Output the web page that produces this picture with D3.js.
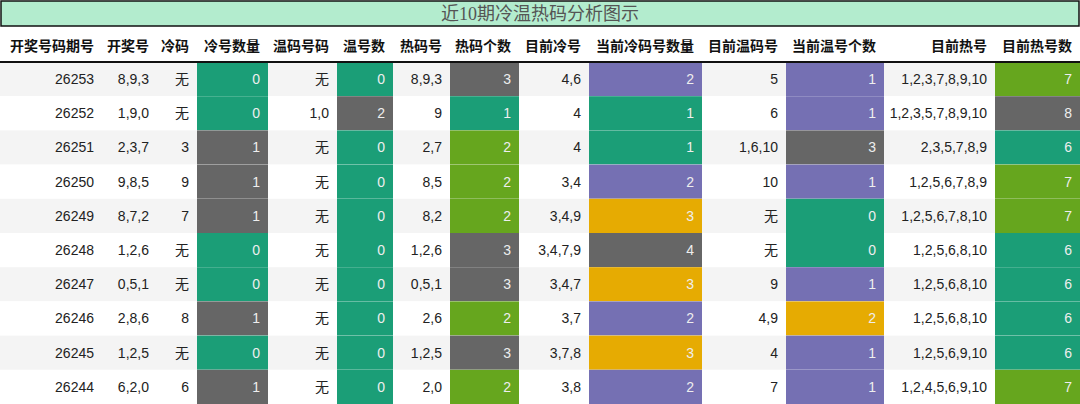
<!DOCTYPE html>
<html>
<head>
<meta charset="utf-8">
<script src="https://cdn.jsdelivr.net/npm/d3@7"></script>
<style>
  body { margin: 0; background: #fff; }
  text { font-family: "Liberation Sans", "Noto Sans CJK SC", sans-serif; }
</style>
</head>
<body>
<svg width="1080" height="404"></svg>
<script>
const title = "近10期冷温热码分析图示";
const headers = ["开奖号码期号","开奖号","冷码","冷号数量","温码号码","温号数","热码号","热码个数","目前冷号","当前冷码号数量","目前温码号","当前温号个数","目前热号","目前热号数"];
const periods = ["26253","26252","26251","26250","26249","26248","26247","26246","26245","26244"];
const draws = ["8,9,3","1,9,0","2,3,7","9,8,5","8,7,2","1,2,6","0,5,1","2,8,6","1,2,5","6,2,0"];
const coldCodes = ["无","无","3","9","7","无","无","8","无","6"];
const coldCount = [0,0,1,1,1,0,0,1,0,1];
const warmCodes = ["无","1,0","无","无","无","无","无","无","无","无"];
const warmCount = [0,2,0,0,0,0,0,0,0,0];
const hotCodes = ["8,9,3","9","2,7","8,5","8,2","1,2,6","0,5,1","2,6","1,2,5","2,0"];
const hotCount = [3,1,2,2,2,3,3,2,3,2];
const curCold = ["4,6","4","4","3,4","3,4,9","3,4,7,9","3,4,7","3,7","3,7,8","3,8"];
const curColdCount = [2,1,1,2,3,4,3,2,3,2];
const curWarm = ["5","6","1,6,10","10","无","无","9","4,9","4","7"];
const curWarmCount = [1,1,3,1,0,0,1,2,1,1];
const curHot = ["1,2,3,7,8,9,10","1,2,3,5,7,8,9,10","2,3,5,7,8,9","1,2,5,6,7,8,9","1,2,5,6,7,8,10","1,2,5,6,8,10","1,2,5,6,8,10","1,2,5,6,8,10","1,2,5,6,9,10","1,2,4,5,6,9,10"];
const curHotCount = [7,8,6,7,7,6,6,6,6,7];

const columns = [periods, draws, coldCodes, coldCount, warmCodes, warmCount, hotCodes, hotCount,
                 curCold, curColdCount, curWarm, curWarmCount, curHot, curHotCount];
const widths = [102,55,40,71,69,56,57,69,70,113,84,98,111,85];

const C = {teal:"#1b9e77", gray:"#666666", lime:"#66a61e", purple:"#7570b3", gold:"#e6ab02"};
// colour for each value, per count column
const colorMaps = {
  3: {0:C.teal, 1:C.gray},
  5: {0:C.teal, 2:C.gray},
  7: {1:C.teal, 2:C.lime, 3:C.gray},
  9: {1:C.teal, 2:C.purple, 3:C.gold, 4:C.gray},
  11:{0:C.teal, 1:C.purple, 2:C.gold, 3:C.gray},
  13:{6:C.teal, 7:C.lime, 8:C.gray}
};

const svg = d3.select("svg");
const xs = d3.cumsum([0].concat(widths));
const y = d3.scaleBand().domain(d3.range(periods.length)).range([62, 404]);

svg.append("rect").attr("x",1).attr("y",1).attr("width",1078).attr("height",25)
  .attr("fill","#b3ecce").attr("stroke","#111").attr("stroke-width",1.5);
svg.append("text").attr("x",540).attr("y",20).attr("text-anchor","middle")
  .style("font-family","'Liberation Serif','Noto Sans CJK SC',serif")
  .style("font-size","18px").attr("fill","#555").text(title);

svg.selectAll("text.h").data(headers).enter().append("text").attr("class","h")
  .attr("x",(d,i)=>xs[i+1]-8).attr("y",51).attr("text-anchor","end")
  .style("font-size","14px").style("font-weight","bold").attr("fill","#111").text(d=>d);

const rows = svg.selectAll("g.r").data(periods).enter().append("g").attr("class","r")
  .attr("transform",(d,i)=>`translate(0,${y(i)})`);
rows.append("rect").attr("width",1080).attr("height",y.bandwidth())
  .attr("fill",(d,i)=>i%2===0?"#f4f4f4":"#fff");

columns.forEach((col,ci)=>{
  const cm = colorMaps[ci];
  rows.each(function(d,ri){
    const g = d3.select(this), v = col[ri];
    if (cm) g.append("rect").attr("x",xs[ci]).attr("width",widths[ci]).attr("height",y.bandwidth()).attr("fill",cm[v]);
    g.append("text").attr("x",xs[ci+1]-8).attr("y",y.bandwidth()/2+5).attr("text-anchor","end")
      .style("font-size","14px").attr("fill",cm?"#eee":"#222").text(v);
  });
});

svg.append("line").attr("x1",0).attr("x2",1080).attr("y1",62).attr("y2",62)
  .attr("stroke","#111").attr("stroke-width",2);
</script>
</body>
</html>
